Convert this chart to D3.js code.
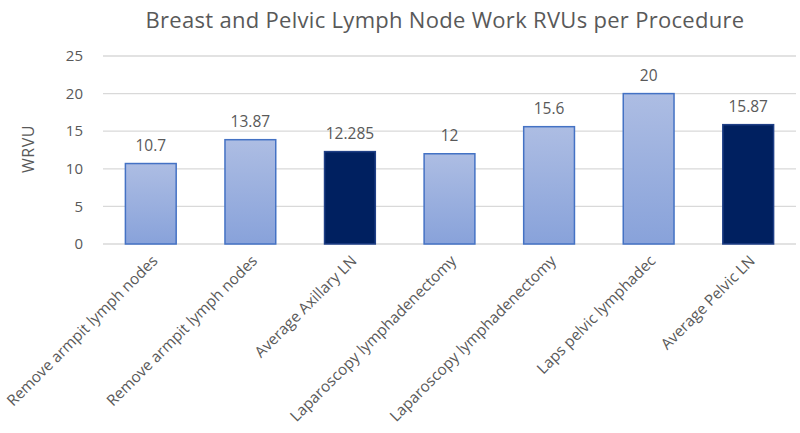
<!DOCTYPE html>
<html>
<head>
<meta charset="utf-8">
<script src="https://cdn.jsdelivr.net/npm/d3@7"></script>
<style>
  body { margin: 0; background: #fff; }
  text { font-family: "Open Sans", "Liberation Sans", sans-serif; fill: #595959; }
</style>
</head>
<body>
<div id="chart"></div>
<script>
const categories = [
  "Remove armpit lymph nodes",
  "Remove armpit lymph nodes",
  "Average Axillary LN",
  "Laparoscopy lymphadenectomy",
  "Laparoscopy lymphadenectomy",
  "Laps pelvic lymphadec",
  "Average Pelvic LN"
];
const values = [10.7, 13.87, 12.285, 12, 15.6, 20, 15.87];
const valueLabels = ["10.7", "13.87", "12.285", "12", "15.6", "20", "15.87"];
const isAverage = [false, false, true, false, false, false, true];
const yTicks = [0, 5, 10, 15, 20, 25];

const width = 800, height = 433;
const margin = { top: 56, right: 2, bottom: 189, left: 101 };

const svg = d3.select("#chart").append("svg")
  .attr("width", width)
  .attr("height", height);

const defs = svg.append("defs");
const grad = defs.append("linearGradient")
  .attr("id", "lightGrad")
  .attr("x1", 0).attr("y1", 0).attr("x2", 0).attr("y2", 1);
grad.append("stop").attr("offset", "0%").attr("stop-color", "#adbde3");
grad.append("stop").attr("offset", "100%").attr("stop-color", "#88a2da");

const x = d3.scaleBand()
  .domain(d3.range(categories.length))
  .range([margin.left, width - margin.right])
  .paddingInner(0.49)
  .paddingOuter(0.245);

const y = d3.scaleLinear()
  .domain([0, 25])
  .range([height - margin.bottom, margin.top]);

// title
svg.append("text")
  .attr("x", 445)
  .attr("y", 28)
  .attr("text-anchor", "middle")
  .style("font-size", "22px")
  .style("letter-spacing", "0.3px")
  .text("Breast and Pelvic Lymph Node Work RVUs per Procedure");

// gridlines
svg.append("g")
  .selectAll("line")
  .data(yTicks)
  .join("line")
  .attr("x1", 103)
  .attr("x2", width - 4)
  .attr("y1", d => y(d))
  .attr("y2", d => y(d))
  .attr("stroke", "#d9d9d9")
  .attr("stroke-width", 1.3);

// y tick labels
svg.append("g")
  .selectAll("text")
  .data(yTicks)
  .join("text")
  .attr("x", 83)
  .attr("y", d => y(d))
  .attr("dy", "0.35em")
  .attr("text-anchor", "end")
  .style("font-size", "15px")
  .text(d => d);

// y axis title
svg.append("text")
  .attr("transform", `translate(34,${y(12.5) - 1}) rotate(-90)`)
  .attr("text-anchor", "middle")
  .style("font-size", "16px")
  .style("letter-spacing", "0.5px")
  .text("WRVU");

// bars
svg.append("g")
  .selectAll("rect")
  .data(values)
  .join("rect")
  .attr("x", (d, i) => x(i))
  .attr("y", d => y(d))
  .attr("width", x.bandwidth())
  .attr("height", d => y(0) - y(d))
  .attr("fill", (d, i) => isAverage[i] ? "#002060" : "url(#lightGrad)")
  .attr("stroke", (d, i) => isAverage[i] ? "#1f3f86" : "#4472c4")
  .attr("stroke-width", 1.5);

// value labels
svg.append("g")
  .selectAll("text")
  .data(values)
  .join("text")
  .attr("x", (d, i) => x(i) + x.bandwidth() / 2)
  .attr("y", d => y(d) - 13)
  .attr("text-anchor", "middle")
  .style("font-size", "15.5px")
  .text((d, i) => valueLabels[i]);

// category labels
svg.append("g")
  .selectAll("text")
  .data(categories)
  .join("text")
  .attr("transform", (d, i) => `translate(${x(i) + x.bandwidth() / 2 + 4},${y(0) + 14}) rotate(-45)`)
  .attr("text-anchor", "end")
  .attr("dy", "0.35em")
  .style("font-size", "15.3px")
  .text(d => d);
</script>
</body>
</html>
